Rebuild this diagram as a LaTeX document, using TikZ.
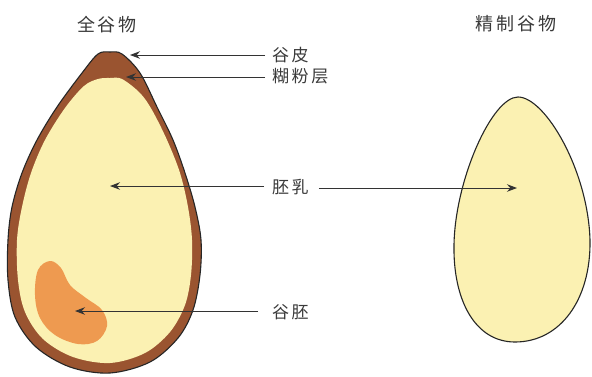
\documentclass[tikz,border=0pt]{standalone}
\usepackage{fontspec}
\newfontfamily\cjk[LetterSpace=15]{Noto Sans CJK SC}
\usetikzlibrary{arrows.meta}
\definecolor{hull}{HTML}{9A5430}
\definecolor{starch}{HTML}{FBF1B2}
\definecolor{germ}{HTML}{EE9A50}
\definecolor{ink}{HTML}{3A3A3A}
\tikzset{
  lbl/.style={font=\cjk\fontsize{17}{17}\selectfont, text=ink, inner sep=0pt, anchor=west},
  ttl/.style={font=\cjk\fontsize{18}{18}\selectfont, text=ink, inner sep=0pt},
  pointer/.style={draw=black!80, line width=1pt, -{Stealth[length=10pt,width=7.5pt]}},
  outline/.style={draw=black!85, line width=1.1pt}
}
\begin{document}
\begin{tikzpicture}[x=1pt,y=-1pt]
\useasboundingbox (0,0) rectangle (592,376);
\fill[white] (0,0) rectangle (592,376);

% whole grain: bran hull
\filldraw[fill=hull, outline] plot[smooth cycle, tension=0.55] coordinates {
  (110,52) (122,54) (140,73) (157,107) (173,140) (185,173) (195,207)
  (201,240) (200,275) (193,310) (178,338) (150,362) (110,373) (70,367)
  (36,347) (15,317) (8,280) (8,240) (12,207) (22,173) (37,140) (57,107)
  (82,73) (98,54)};
% endosperm inside the hull
\fill[starch] plot[smooth cycle, tension=0.55] coordinates {
  (110,78) (122,79) (140,93) (152,110) (167,140) (180,173) (188,207)
  (192,240) (191,275) (185,305) (170,332) (145,353) (110,363) (73,357)
  (43,339) (25,312) (18,280) (17,240) (22,207) (31,173) (45,140) (65,108)
  (84,86) (98,79)};
% germ
\fill[germ] plot[smooth cycle, tension=0.6] coordinates {
  (50,261) (61,268) (70,285) (86,298) (102,310) (107,326) (97,341)
  (78,344) (55,335) (40,318) (35,295) (38,270)};

% refined grain: endosperm only
\filldraw[fill=starch, outline]
  (518,97) .. controls (545,97) and (588,170) .. (590,240)
  .. controls (591,300) and (560,342) .. (515,342)
  .. controls (475,342) and (453,300) .. (454,245)
  .. controls (455,180) and (492,97) .. (518,97) -- cycle;

% titles
\node[ttl] (tw) at (107,25) {全谷物};
\node[ttl] (tr) at (516,24) {精制谷物};

% labels
\node[lbl] (bran)  at (272,55) {谷皮};
\node[lbl] (alr)   at (272,76) {糊粉层};
\node[lbl] (endo)  at (272,187) {胚乳};
\node[lbl] (emb)   at (272,312) {谷胚};

% pointer targets
\coordinate (pBran) at (130,55);
\coordinate (pAlr)  at (126,77);
\coordinate (pEndoL) at (110,186);
\coordinate (pEndoR) at (517,188);
\coordinate (pEmb) at (75,311);

\draw[pointer] ([xshift=-7pt]bran.west |- pBran) -- (pBran);
\draw[pointer] ([xshift=-7pt]alr.west |- pAlr) -- (pAlr);
\draw[pointer] ([xshift=-8pt]endo.west |- pEndoL) -- (pEndoL);
\draw[pointer] ([xshift=10pt]endo.east |- pEndoR) -- (pEndoR);
\draw[pointer] ([xshift=-14pt]emb.west |- pEmb) -- (pEmb);
\end{tikzpicture}
\end{document}
